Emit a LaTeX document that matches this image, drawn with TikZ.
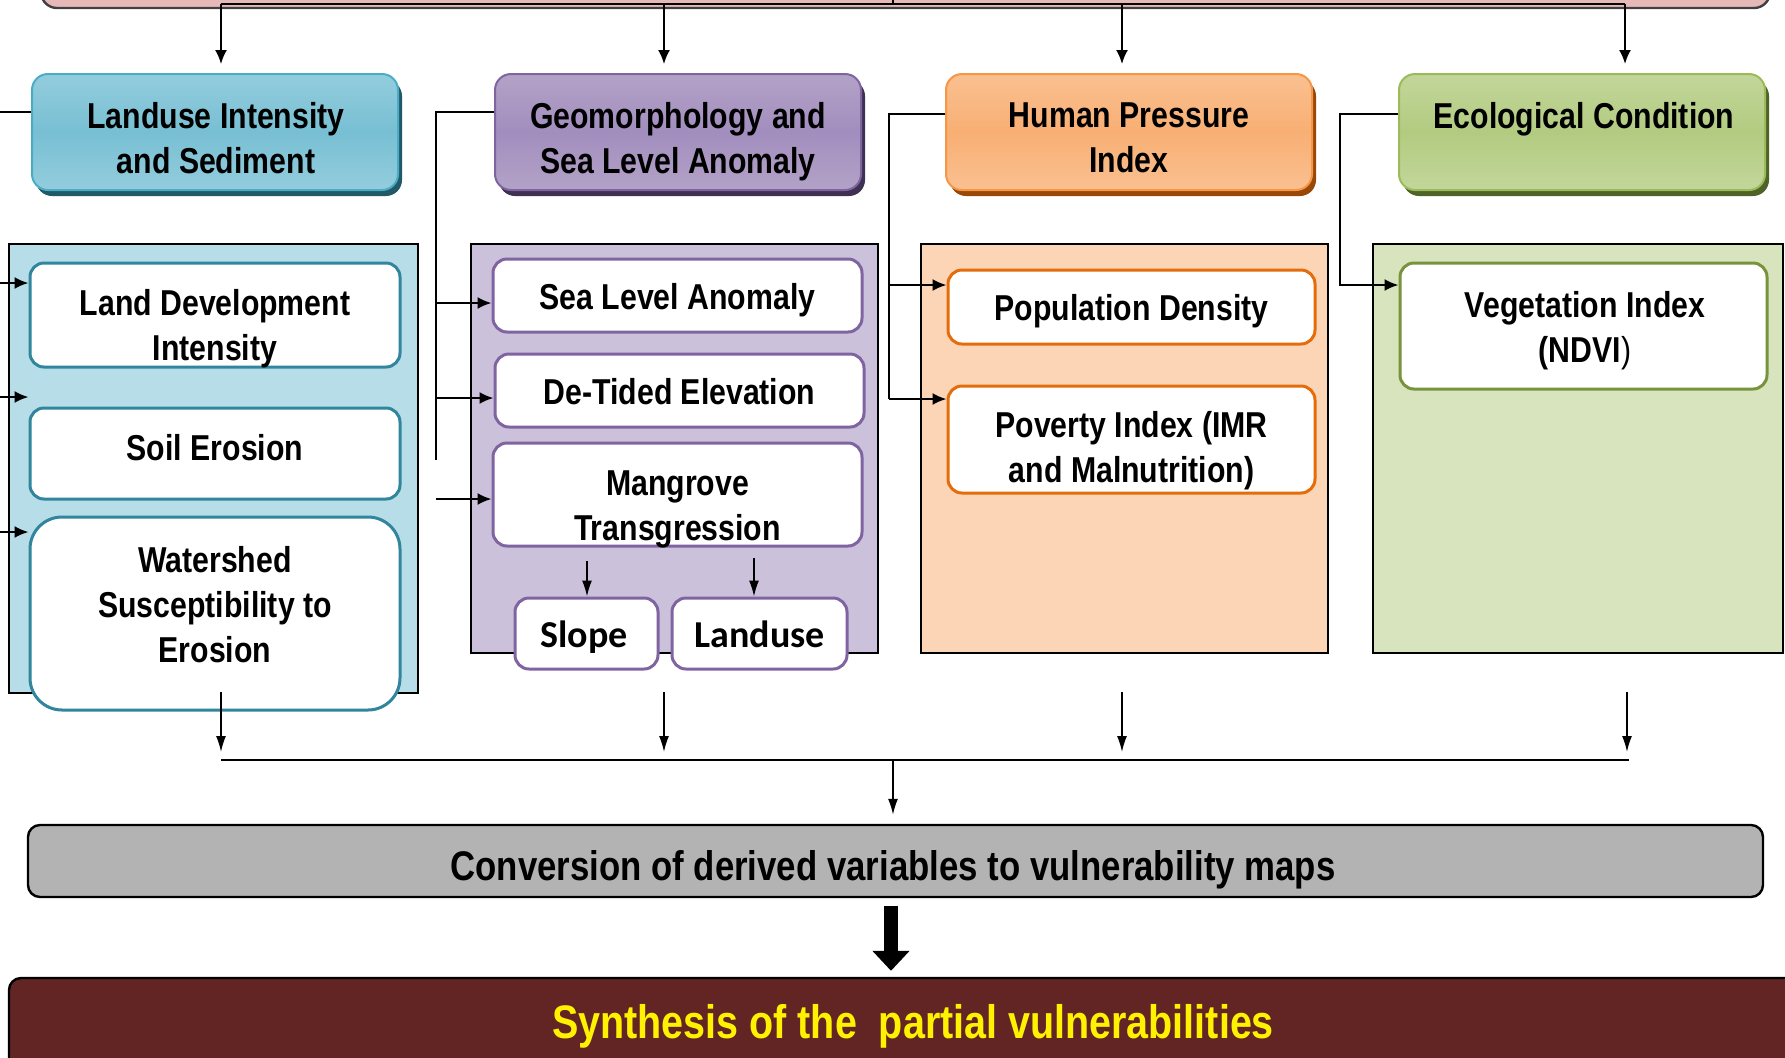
\documentclass[tikz,border=0pt]{standalone}
\usepackage{fontspec}
\newfontfamily\nar{Liberation Sans}[FakeStretch=0.84]
\newfontfamily\calib{Carlito}
\usetikzlibrary{arrows.meta,shadows,calc}
\definecolor{pinkc}{HTML}{E6B9B8}
\definecolor{aT}{HTML}{93CDDD}\definecolor{aM}{HTML}{78BFD3}\definecolor{aB}{HTML}{4BACC6}\definecolor{aS}{HTML}{215968}\definecolor{aF}{HTML}{B7DEE8}\definecolor{aE}{HTML}{31859C}
\definecolor{bT}{HTML}{B3A2C7}\definecolor{bM}{HTML}{A28EBE}\definecolor{bB}{HTML}{8064A2}\definecolor{bS}{HTML}{3F3151}\definecolor{bF}{HTML}{CCC1DA}\definecolor{bE}{HTML}{8064A2}
\definecolor{cT}{HTML}{FAC090}\definecolor{cM}{HTML}{F8AF74}\definecolor{cB}{HTML}{F79646}\definecolor{cS}{HTML}{984807}\definecolor{cF}{HTML}{FBD5B5}\definecolor{cE}{HTML}{E46C0A}
\definecolor{dT}{HTML}{C3D69B}\definecolor{dM}{HTML}{B2CB80}\definecolor{dB}{HTML}{9BBB59}\definecolor{dS}{HTML}{4F6228}\definecolor{dF}{HTML}{D7E4BD}\definecolor{dE}{HTML}{77933C}
\definecolor{grayc}{HTML}{B3B3B3}
\definecolor{brownc}{HTML}{632523}
\begin{document}
\begin{tikzpicture}[x=0.5pt,y=-0.5pt,
  every node/.style={font=\nar\bfseries\fontsize{18pt}{22.5pt}\selectfont, align=center,
    execute at begin node=\strut, execute at end node=\strut, inner sep=0pt},
  hdr/.style n args={4}{draw=#1, line width=1pt, top color=#2, bottom color=#2, middle color=#3,
    rounded corners=8pt, minimum width=183pt, minimum height=58pt,
    general shadow={fill=#4, shadow xshift=2pt, shadow yshift=-3pt}},
  cont/.style={draw=black, line width=1pt, fill=#1},
  sub/.style={draw=#1, line width=1.5pt, fill=white, rounded corners=7pt, minimum width=185pt},
  cal/.style={font=\calib\bfseries\fontsize{19pt}{23.75pt}\selectfont},
  conn/.style={draw=black, line width=1pt},
  arr/.style={conn, -{Latex[length=7pt,width=6pt]}},
  thinarr/.style={draw=black, line width=0.8pt, -{Latex[length=8pt,width=5pt]}},
  bigarr/.style={draw=black, line width=7pt, -{Triangle[length=10pt,width=18pt]}}
]
\clip (0,0) rectangle (1785,1057);
\fill[white] (0,0) rectangle (1785,1057);

% top box (cut by the frame)
\node[draw=black!75, line width=1.2pt, fill=pinkc, rounded corners=8pt, minimum width=864.5pt, minimum height=24pt] (top) at (905.5,-16) {};
\coordinate (tl) at (221,4);
\coordinate (tr) at (1625,4);
\coordinate (tm) at (893,-12);
\draw[conn] (tl) -- (tr);
\draw[conn] (tm) -- (tm |- tl);

% header boxes
\node[hdr={aB}{aT}{aM}{aS}] (b1) at (215,132) {};
\node[hdr={bB}{bT}{bM}{bS}] (b2) at (678,132) {};
\node[hdr={cB}{cT}{cM}{cS}] (b3) at (1129,132) {};
\node[hdr={dB}{dT}{dM}{dS}] (b4) at (1582,132) {};
\node (b1t) at (216,144.5) {Landuse Intensity\\and Sediment};
\node (b2t) at (678,144.5) {Geomorphology and\\Sea Level Anomaly};
\node (b3t) at (1129,144.5) {Human Pressure\\Index};
\node (b4t) at (1584,144.5) {Ecological Condition\\\mbox{}};

\coordinate (t1) at (221,4);
\coordinate (t2) at (664,4);
\coordinate (t3) at (1122,4);
\coordinate (t4) at (1625,4);
\foreach \t/\b in {t1/b1,t2/b2,t3/b3,t4/b4}
  \draw[arr] (\t) -- ($(\t |- \b.north)+(0,-9)$);

% containers
\node[cont=aF, minimum width=204.5pt, minimum height=224.5pt] (c1) at (213.5,468.5) {};
\node[cont=bF, minimum width=203.5pt, minimum height=204.5pt] (c2) at (674.5,448.5) {};
\node[cont=cF, minimum width=203.5pt, minimum height=204.5pt] (c3) at (1124.5,448.5) {};
\node[cont=dF, minimum width=205pt, minimum height=204.5pt] (c4) at (1578,448.5) {};

% column 1
\node[sub=aE, minimum height=52pt] (ld) at (215,315) {};
\node (ldt) at (215,331.5) {Land Development\\Intensity};
\node[sub=aE, minimum height=45.5pt] (se) at (215,453.5) {};
\node (set) at (215,451) {Soil Erosion};
\node[sub=aE, minimum height=96.5pt, rounded corners=16pt] (ws) at (215,613.5) {};
\node (wst) at (215,611.5) {Watershed\\Susceptibility to\\Erosion};

% column 2
\node[sub=bE, minimum width=184.5pt, minimum height=36.5pt] (sla) at (677.5,295.5) {};
\node (slat) at (677.5,300) {Sea Level Anomaly};
\node[sub=bE, minimum width=184.5pt, minimum height=36.5pt] (dte) at (679.5,390.5) {};
\node (dtet) at (679.5,395) {De-Tided Elevation};
\node[sub=bE, minimum width=184.5pt, minimum height=51.5pt] (mt) at (677.5,494.5) {};
\node (mtt) at (677.5,512) {Mangrove\\Transgression};
\node[sub=bE, minimum width=71.5pt, minimum height=35.5pt] (slope) at (586.5,633.5) {};
\node[cal] (slopet) at (584,638) {Slope};
\node[sub=bE, minimum width=87.5pt, minimum height=35.5pt] (lu) at (759.5,633.5) {};
\node[cal] (lut) at (759.5,638) {Landuse};

% column 3
\node[sub=cE, minimum width=183.5pt, minimum height=37pt] (pd) at (1131.5,307) {};
\node (pdt) at (1131.5,311.5) {Population Density};
\node[sub=cE, minimum width=183.5pt, minimum height=53.5pt] (pov) at (1131.5,439.5) {};
\node (povt) at (1131.5,454) {Poverty Index (IMR\\and Malnutrition)};

% column 4
\node[sub=dE, minimum width=183.5pt, minimum height=63pt] (veg) at (1583.5,326) {};
\node (vegt) at (1585,334) {Vegetation Index\\(NDVI{\mdseries )}};

% left-side connectors (column 1)
\coordinate (L0) at (0,112);
\draw[conn] ([yshift=10pt]b1.west) -- (L0);
\coordinate (La) at (0,283);
\coordinate (Lb) at (0,397);
\coordinate (Lc) at (0,532);
\draw[arr] (La) -- (La -| ld.west);
\draw[arr] (Lb) -- (Lb -| ld.west);
\draw[arr] (Lc) -- (Lc -| ws.west);

% column 2 connectors
\coordinate (g0) at (436,460);
\coordinate (g1) at (436,303);
\coordinate (g2) at (436,398);
\coordinate (g3) at (436,499);
\draw[conn] ([yshift=10pt]b2.west) -| (g0);
\draw[arr] (g1) -- (g1 -| sla.west);
\draw[arr] (g2) -- (g2 -| dte.west);
\draw[arr] (g3) -- (g3 -| mt.west);
\coordinate (s1) at (587,561);
\coordinate (s2) at (754,558);
\draw[thinarr] (s1) -- (s1 |- slope.north);
\draw[thinarr] (s2) -- (s2 |- lu.north);

% column 3 connectors
\coordinate (h0) at (889,399);
\coordinate (h1) at (889,285);
\draw[conn] ([yshift=9pt]b3.west) -| (h0);
\draw[arr] (h1) -- (h1 -| pd.west);
\draw[arr] (h0) -- (h0 -| pov.west);

% column 4 connector
\coordinate (k1) at (1340,285);
\draw[arr] ([yshift=9pt]b4.west) -| (k1) -- (k1 -| veg.west);

% bottom collection
\coordinate (d1) at (221,692);
\coordinate (d2) at (664,692);
\coordinate (d3) at (1122,692);
\coordinate (d4) at (1627,692);
\foreach \d in {d1,d2,d3,d4}
  \draw[thinarr] (\d) -- ($(\d)+(0,60)$);
\coordinate (e1) at (221,760);
\coordinate (e2) at (1629,760);
\draw[draw=black, line width=1.3pt] (e1) -- (e2);
\coordinate (m1) at (893,760);

\node[draw=black, line width=1.2pt, fill=grayc, rounded corners=6pt, minimum width=867.5pt, minimum height=36pt] (gray) at (895.5,861) {};
\node[font=\nar\bfseries\fontsize{20.7pt}{25.9pt}\selectfont] (grayt) at (893,870.5) {Conversion of derived variables to vulnerability maps};
\draw[thinarr] (m1) -- ($(m1 |- gray.north)+(0,-9)$);

\node[draw=black, line width=1.2pt, fill=brownc, rounded corners=6pt, minimum width=895.5pt, minimum height=51pt] (brown) at (904.5,1029) {};
\node[font=\nar\bfseries\fontsize{23.5pt}{29.4pt}\selectfont, text=yellow] (brownt) at (913,1027) {Synthesis of the\ \ partial vulnerabilities};

\coordinate (q) at (891,0);
\draw[bigarr] ($(q |- gray.south)+(0,8)$) -- ($(q |- brown.north)+(0,-6)$);
\end{tikzpicture}
\end{document}
